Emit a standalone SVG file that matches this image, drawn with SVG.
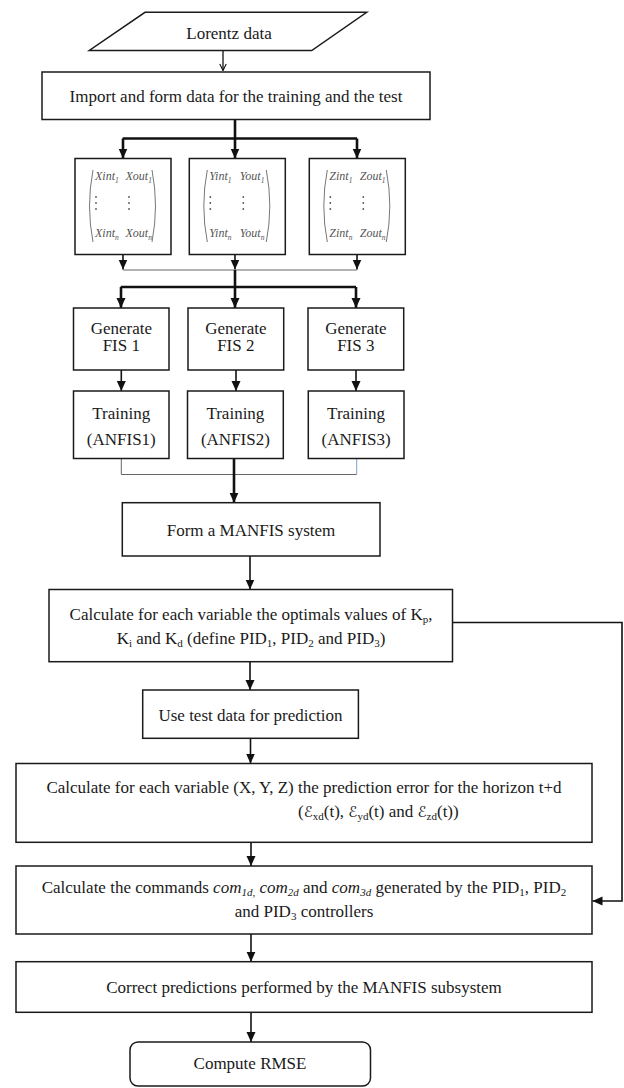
<svg xmlns="http://www.w3.org/2000/svg" width="624" height="1088" viewBox="0 0 624 1088">
<style>
.box{fill:#fff;stroke:#1a1a1a;stroke-width:1.5}
.t{font-family:"Liberation Serif","Times New Roman",serif;font-size:17px;fill:#1a1a1a;text-anchor:middle}
.ts{font-family:"Liberation Serif","Times New Roman",serif;font-size:17px;fill:#1a1a1a}
.sub{font-size:11px}
.it{font-style:italic}
.scr{font-family:"DejaVu Serif","DejaVu Sans",serif;font-style:italic;font-size:15px}
.m{font-family:"Liberation Serif","Times New Roman",serif;font-style:italic;font-size:12px;fill:#555}
.ms{font-size:7.5px}
.par{fill:none;stroke:#777;stroke-width:1}
.dot{fill:#555}
.c{stroke:#111;stroke-width:1.6;fill:none}
.cb{stroke:#111;stroke-width:2.6;fill:none}
.cg{stroke:#666;stroke-width:1;fill:none}
</style>
<defs>
<marker id="ah" viewBox="0 0 10 10" refX="10" refY="5" markerWidth="10" markerHeight="10" markerUnits="userSpaceOnUse" orient="auto">
<path d="M0,0.5 L10,5 L0,9.5 z" fill="#111"/>
</marker>
<marker id="ao" viewBox="0 0 10 10" refX="9" refY="5" markerWidth="8" markerHeight="8" markerUnits="userSpaceOnUse" orient="auto">
<path d="M1,1 L9,5 L1,9" fill="none" stroke="#111" stroke-width="1.4"/>
</marker>
<g id="matrixX">
<path class="par" d="M93 170 Q86 206 93 242"/>
<path class="par" d="M152 170 Q159 206 152 242"/>
<circle class="dot" cx="96" cy="197" r="0.9"/><circle class="dot" cx="96" cy="203" r="0.9"/><circle class="dot" cx="96" cy="209" r="0.9"/>
<circle class="dot" cx="129" cy="197" r="0.9"/><circle class="dot" cx="129" cy="203" r="0.9"/><circle class="dot" cx="129" cy="209" r="0.9"/>
</g>
</defs>

<g id="connectors">
<path class="c" d="M223 50.5 V70.5" marker-end="url(#ao)" style="stroke-width:1.3"/>
<path class="cb" d="M235 119.5 V138.5"/>
<path class="cb" d="M122.7 138.5 H357"/>
<path class="cb" d="M123 138.5 V158.5" marker-end="url(#ah)"/>
<path class="cb" d="M235 138.5 V158.5" marker-end="url(#ah)"/>
<path class="cb" d="M357 138.5 V158.5" marker-end="url(#ah)"/>
<path class="c" d="M123 254.5 V269.5" marker-end="url(#ah)"/>
<path class="c" d="M235 254.5 V269.5" marker-end="url(#ah)"/>
<path class="c" d="M357 254.5 V269.5" marker-end="url(#ah)"/>
<path class="cg" d="M123 270 H357"/>
<path class="cb" d="M235 270 V287"/>
<path class="cb" d="M120.7 287 H356"/>
<path class="cb" d="M121 287 V308" marker-end="url(#ah)"/>
<path class="cb" d="M235 287 V308" marker-end="url(#ah)"/>
<path class="cb" d="M356 287 V308" marker-end="url(#ah)"/>
<path class="c" d="M121.3 370 V391" marker-end="url(#ah)"/>
<path class="c" d="M236 370 V391" marker-end="url(#ah)"/>
<path class="c" d="M356 370 V391" marker-end="url(#ah)"/>
<path class="cg" d="M121.3 458.5 V474.5 H356.7"/>
<path class="cg" d="M356.7 474.5 V458.5" style="stroke:#7f9fc8"/>
<path class="cb" d="M234 458.5 V502.7" marker-end="url(#ah)"/>
<path class="c" d="M250 556 V589.5" marker-end="url(#ah)"/>
<path class="c" d="M250 661.7 V690" marker-end="url(#ah)"/>
<path class="c" d="M250.5 738.3 V763.5" marker-end="url(#ah)"/>
<path class="c" d="M251 842.3 V866" marker-end="url(#ah)"/>
<path class="c" d="M251 934 V961.7" marker-end="url(#ah)"/>
<path class="c" d="M251 1012.3 V1042" marker-end="url(#ah)"/>
<path class="c" d="M452.5 622.5 H622 V901 H592.5" marker-end="url(#ah)"/>
</g>

<g id="lorentz">
<polygon class="box" points="145,12.3 366.7,12.3 311.7,50.5 89.3,50.5"/>
<text class="t" x="229" y="39">Lorentz data</text>
</g>

<g id="import">
<rect class="box" x="42" y="72" width="388" height="47.5"/>
<text class="t" x="236" y="101.5">Import and form data for the training and the test</text>
</g>

<g id="matX">
<rect class="box" x="75" y="158.5" width="96" height="96"/>
<use href="#matrixX"/>
<text class="m" x="95" y="180">Xint<tspan class="ms" dy="2.5">1</tspan></text>
<text class="m" x="125.5" y="180">Xout<tspan class="ms" dy="2.5">1</tspan></text>
<text class="m" x="95" y="237">Xint<tspan class="ms" dy="2.5">n</tspan></text>
<text class="m" x="125.5" y="237">Xout<tspan class="ms" dy="2.5">n</tspan></text>
</g>

<g id="matY">
<rect class="box" x="189.3" y="158.5" width="96" height="96"/>
<use href="#matrixX" x="114.3"/>
<text class="m" x="209.3" y="180">Yint<tspan class="ms" dy="2.5">1</tspan></text>
<text class="m" x="239.8" y="180">Yout<tspan class="ms" dy="2.5">1</tspan></text>
<text class="m" x="209.3" y="237">Yint<tspan class="ms" dy="2.5">n</tspan></text>
<text class="m" x="239.8" y="237">Yout<tspan class="ms" dy="2.5">n</tspan></text>
</g>

<g id="matZ">
<rect class="box" x="309.3" y="158.5" width="96" height="96"/>
<use href="#matrixX" x="234.3"/>
<text class="m" x="329.3" y="180">Zint<tspan class="ms" dy="2.5">1</tspan></text>
<text class="m" x="359.8" y="180">Zout<tspan class="ms" dy="2.5">1</tspan></text>
<text class="m" x="329.3" y="237">Zint<tspan class="ms" dy="2.5">n</tspan></text>
<text class="m" x="359.8" y="237">Zout<tspan class="ms" dy="2.5">n</tspan></text>
</g>

<g id="gen1">
<rect class="box" x="73.5" y="308" width="95.5" height="62"/>
<text class="t" x="121.3" y="334">Generate</text>
<text class="t" x="121.3" y="351">FIS 1</text>
</g>
<g id="gen2">
<rect class="box" x="188" y="308" width="95.7" height="62"/>
<text class="t" x="235.8" y="334">Generate</text>
<text class="t" x="235.8" y="351">FIS 2</text>
</g>
<g id="gen3">
<rect class="box" x="308" y="308" width="95.7" height="62"/>
<text class="t" x="355.8" y="334">Generate</text>
<text class="t" x="355.8" y="351">FIS 3</text>
</g>

<g id="train1">
<rect class="box" x="73.5" y="391" width="95.5" height="67.5"/>
<text class="t" x="121.3" y="419">Training</text>
<text class="t" x="121.3" y="445">(ANFIS1)</text>
</g>
<g id="train2">
<rect class="box" x="187.5" y="391" width="95.8" height="67.5"/>
<text class="t" x="235.4" y="419">Training</text>
<text class="t" x="235.4" y="445">(ANFIS2)</text>
</g>
<g id="train3">
<rect class="box" x="308.3" y="391" width="95.7" height="67.5"/>
<text class="t" x="356.1" y="419">Training</text>
<text class="t" x="356.1" y="445">(ANFIS3)</text>
</g>

<g id="manfis">
<rect class="box" x="122.3" y="502.7" width="257.7" height="53.3"/>
<text class="t" x="251" y="535.5">Form a MANFIS system</text>
</g>

<g id="kp">
<rect class="box" x="49" y="589.5" width="403.5" height="72.2"/>
<text class="t" x="251" y="620">Calculate for each variable the optimals values of K<tspan class="sub" dy="3">p</tspan><tspan dy="-3">,</tspan></text>
<text class="t" x="251" y="644">K<tspan class="sub" dy="3">i</tspan><tspan dy="-3"> and K</tspan><tspan class="sub" dy="3">d</tspan><tspan dy="-3"> (define PID</tspan><tspan class="sub" dy="3">1</tspan><tspan dy="-3">, PID</tspan><tspan class="sub" dy="3">2</tspan><tspan dy="-3"> and PID</tspan><tspan class="sub" dy="3">3</tspan><tspan dy="-3">)</tspan></text>
</g>

<g id="usetest">
<rect class="box" x="142.7" y="690" width="215.7" height="48.3"/>
<text class="t" x="250.5" y="721">Use test data for prediction</text>
</g>

<g id="error">
<rect class="box" x="16" y="763.5" width="576" height="78.8"/>
<text class="t" x="304" y="793">Calculate for each variable (X, Y, Z) the prediction error for the horizon t+d</text>
<text class="ts" x="298" y="817">(<tspan class="scr">ℰ</tspan><tspan class="sub" dy="3">xd</tspan><tspan dy="-3">(t), </tspan><tspan class="scr">ℰ</tspan><tspan class="sub" dy="3">yd</tspan><tspan dy="-3">(t) and </tspan><tspan class="scr">ℰ</tspan><tspan class="sub" dy="3">zd</tspan><tspan dy="-3">(t))</tspan></text>
</g>

<g id="commands">
<rect class="box" x="16" y="866" width="576" height="68"/>
<text class="t" x="304" y="893">Calculate the commands <tspan class="it">com</tspan><tspan class="sub it" dy="3">1d,</tspan><tspan dy="-3"> </tspan><tspan class="it">com</tspan><tspan class="sub it" dy="3">2d</tspan><tspan dy="-3"> and </tspan><tspan class="it">com</tspan><tspan class="sub it" dy="3">3d</tspan><tspan dy="-3"> generated by the PID</tspan><tspan class="sub" dy="3">1</tspan><tspan dy="-3">, PID</tspan><tspan class="sub" dy="3">2</tspan></text>
<text class="t" x="304" y="917">and PID<tspan class="sub" dy="3">3</tspan><tspan dy="-3"> controllers</tspan></text>
</g>

<g id="correct">
<rect class="box" x="16" y="961.7" width="576" height="50.6"/>
<text class="t" x="304" y="993">Correct predictions performed by the MANFIS subsystem</text>
</g>

<g id="rmse">
<rect class="box" x="130" y="1042" width="240.5" height="44" rx="8" ry="8"/>
<text class="t" x="250" y="1069">Compute RMSE</text>
</g>
</svg>
